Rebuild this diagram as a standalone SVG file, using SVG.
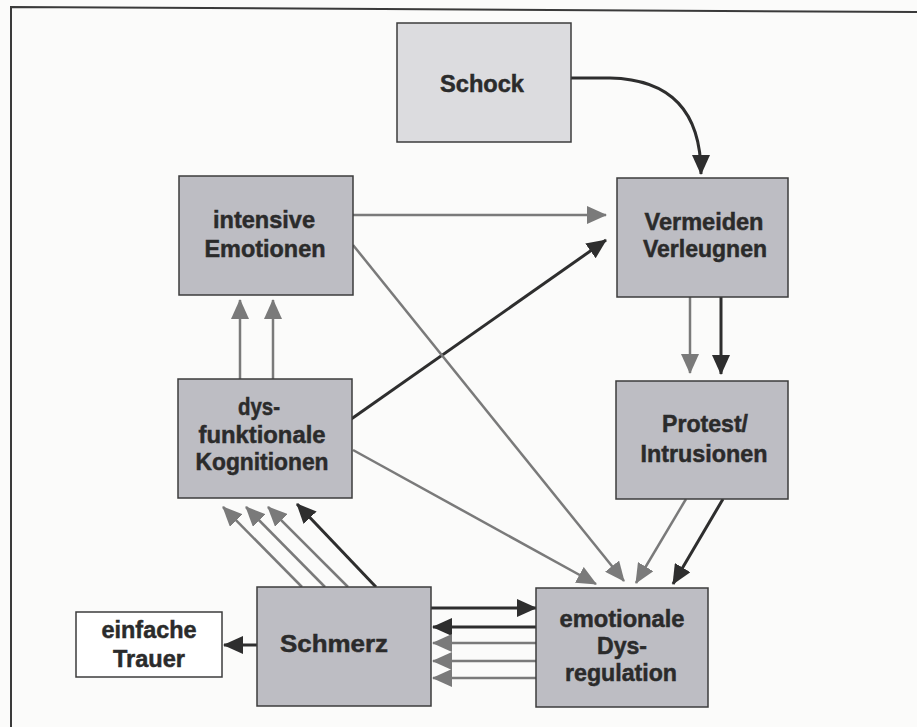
<svg xmlns="http://www.w3.org/2000/svg" width="917" height="727" viewBox="0 0 917 727">
<style>
.bg{fill:#fbfbfa}
.frame{fill:none;stroke:#3a3a3a;stroke-width:2}
.box{fill:#bdbdc3;stroke:#3c3c3c;stroke-width:1.5}
.light{fill:#dcdcdf;stroke:#3c3c3c;stroke-width:1.5}
.white{fill:#ffffff;stroke:#3c3c3c;stroke-width:1.5}
text{font-family:"Liberation Sans",Arial,sans-serif;font-weight:bold;font-size:24px;fill:#2b2b2b;stroke:#2b2b2b;stroke-width:0.5;text-anchor:middle}
.g{fill:none;stroke:#7a7a7a;stroke-width:2.5;marker-end:url(#ag)}
.d{fill:none;stroke:#2e2e2e;stroke-width:3;marker-end:url(#ad)}
</style>
<defs>
<marker id="ag" markerUnits="userSpaceOnUse" markerWidth="20" markerHeight="18" viewBox="0 0 20 18" refX="19" refY="9" orient="auto">
<path d="M0,0 L20,9 L0,18 z" fill="#7a7a7a"/>
</marker>
<marker id="ad" markerUnits="userSpaceOnUse" markerWidth="20" markerHeight="18" viewBox="0 0 20 18" refX="19" refY="9" orient="auto">
<path d="M0,0 L20,9 L0,18 z" fill="#2e2e2e"/>
</marker>
</defs>
<rect class="bg" x="0" y="0" width="917" height="727"/>
<path class="frame" d="M11,727 L11,7 L917,12"/>

<g id="connectors">
<path class="d" d="M571,78 L610,78 Q701,80 701,174"/>
<path class="g" d="M353,215 L606,215"/>
<path class="d" d="M347,422 L606,240"/>
<path class="g" d="M353,245 L624,581"/>
<path class="g" d="M353,450 L596,584"/>
<path class="g" d="M240,379 L240,300"/>
<path class="g" d="M273,379 L273,300"/>
<path class="g" d="M302,587 L223,507"/>
<path class="g" d="M325,587 L246,507"/>
<path class="g" d="M348,587 L268,507"/>
<path class="d" d="M376,587 L297,504"/>
<path class="d" d="M431,608 L536,608"/>
<path class="d" d="M536,627 L433,627"/>
<path class="g" d="M536,643 L433,643"/>
<path class="g" d="M536,661 L433,661"/>
<path class="g" d="M536,678 L433,678"/>
<path class="d" d="M257,645 L224,645"/>
<path class="g" d="M690,297 L690,373"/>
<path class="d" d="M721,297 L721,374"/>
<path class="g" d="M686,499 L636,583"/>
<path class="d" d="M723,499 L673,584"/>
</g>

<g id="schock">
<rect class="light" x="397" y="23" width="174" height="119"/>
<text x="482" y="92" textLength="84" lengthAdjust="spacingAndGlyphs">Schock</text>
</g>
<g id="intensive-emotionen">
<rect class="box" x="179" y="176" width="174" height="119"/>
<text x="264" y="228" textLength="102" lengthAdjust="spacingAndGlyphs">intensive</text>
<text x="265" y="257" textLength="121" lengthAdjust="spacingAndGlyphs">Emotionen</text>
</g>
<g id="vermeiden-verleugnen">
<rect class="box" x="617" y="178" width="171" height="119"/>
<text x="704" y="230" textLength="119" lengthAdjust="spacingAndGlyphs">Vermeiden</text>
<text x="705" y="257" textLength="124" lengthAdjust="spacingAndGlyphs">Verleugnen</text>
</g>
<g id="dysfunktionale-kognitionen">
<rect class="box" x="178" y="379" width="174" height="119"/>
<text x="259" y="415" textLength="42" lengthAdjust="spacingAndGlyphs">dys-</text>
<text x="262" y="443" textLength="127" lengthAdjust="spacingAndGlyphs">funktionale</text>
<text x="262" y="470" textLength="133" lengthAdjust="spacingAndGlyphs">Kognitionen</text>
</g>
<g id="protest-intrusionen">
<rect class="box" x="616" y="381" width="172" height="118"/>
<text x="705" y="432" textLength="86" lengthAdjust="spacingAndGlyphs">Protest/</text>
<text x="704" y="462" textLength="127" lengthAdjust="spacingAndGlyphs">Intrusionen</text>
</g>
<g id="schmerz">
<rect class="box" x="257" y="587" width="174" height="119"/>
<text x="334" y="652" textLength="108" lengthAdjust="spacingAndGlyphs">Schmerz</text>
</g>
<g id="emotionale-dysregulation">
<rect class="box" x="536" y="588" width="172" height="119"/>
<text x="622" y="627" textLength="125" lengthAdjust="spacingAndGlyphs">emotionale</text>
<text x="622" y="654" textLength="50" lengthAdjust="spacingAndGlyphs">Dys-</text>
<text x="621" y="681" textLength="112" lengthAdjust="spacingAndGlyphs">regulation</text>
</g>
<g id="einfache-trauer">
<rect class="white" x="76" y="612" width="146" height="65"/>
<text x="149" y="638" textLength="95" lengthAdjust="spacingAndGlyphs">einfache</text>
<text x="149" y="667" textLength="72" lengthAdjust="spacingAndGlyphs">Trauer</text>
</g>
</svg>
